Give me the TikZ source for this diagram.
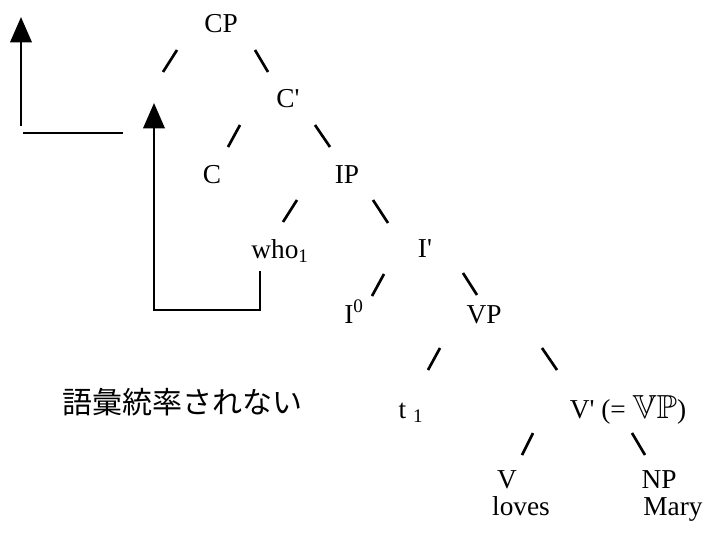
\documentclass[tikz,border=0pt]{standalone}
\usepackage{amssymb}
\usepackage{fontspec}
\setmainfont{Liberation Serif}
\newfontfamily\jpfont{Noto Sans CJK JP}
\usetikzlibrary{arrows.meta}

\begin{document}
\begin{tikzpicture}[x=0.75pt,y=-0.75pt,line join=miter,
  lbl/.style={inner sep=0pt,anchor=base,font=\fontsize{20.5}{24}\selectfont},
  branch/.style={line width=2pt},
  move/.style={line width=2pt,-{Triangle[length=19pt,width=16pt]}}]
\path[use as bounding box] (0,0) rectangle (713,535);
% tree labels
\node[lbl] (cp) at (221,33) {CP};
\node[lbl] (cbar) at (288,108) {C\textquotesingle};
\node[lbl] (c) at (212,183) {C};
\node[lbl] (ip) at (347,183) {IP};
\node[lbl] (who) at (280,258) {who\textsubscript{1}};
\node[lbl] (ibar) at (425,257) {I\textquotesingle};
\node[lbl] (izero) at (354,323) {I\textsuperscript{0}};
\node[lbl] (vp) at (484,323) {VP};
\node[lbl] (trace) at (411,418) {t \textsubscript{1}};
\node[lbl] (vbar) at (628,418) {V\textquotesingle{} (= {\fontsize{25}{28}\selectfont$\mathbb{VP}$})};
\node[lbl] (v) at (507,488) {V};
\node[lbl] (np) at (659,488) {NP};
\node[lbl] (loves) at (521,515) {loves};
\node[lbl] (mary) at (673,515) {Mary};
\node[inner sep=0pt,font=\jpfont\fontsize{22.5}{26}\selectfont] (jp) at (182,402) {語彙統率されない};
% branches
\draw[branch] ([shift={(-58,39)}]cp.base) -- +(14,-22);
\draw[branch] ([shift={(34,17)}]cp.base) -- +(13,22);
\draw[branch] ([shift={(-60,39)}]cbar.base) -- +(12,-22);
\draw[branch] ([shift={(27,17)}]cbar.base) -- +(15,22);
\draw[branch] ([shift={(-64,39)}]ip.base) -- +(14,-22);
\draw[branch] ([shift={(26,17)}]ip.base) -- +(15,23);
\draw[branch] ([shift={(-53,39)}]ibar.base) -- +(12,-22);
\draw[branch] ([shift={(38,16)}]ibar.base) -- +(14,22);
\draw[branch] ([shift={(-56,47)}]vp.base) -- +(12,-22);
\draw[branch] ([shift={(58,25)}]vp.base) -- +(15,22);
\draw[branch] ([shift={(-106,37)}]vbar.base) -- +(11,-22);
\draw[branch] ([shift={(4,15)}]vbar.base) -- +(13,22);
% movement
\coordinate (whofoot) at (260,271);
\coordinate (turn) at (154,310);
\coordinate (spec) at (154,103);
\draw[move] (whofoot) |- (turn) -- (spec);
\coordinate (upfoot) at (21,126);
\coordinate (uptip) at (21,17);
\draw[move] (upfoot) -- (uptip);
\coordinate (barl) at (23,133);
\coordinate (barr) at (123,133);
\draw[branch] (barl) -- (barr);
\end{tikzpicture}
\end{document}
